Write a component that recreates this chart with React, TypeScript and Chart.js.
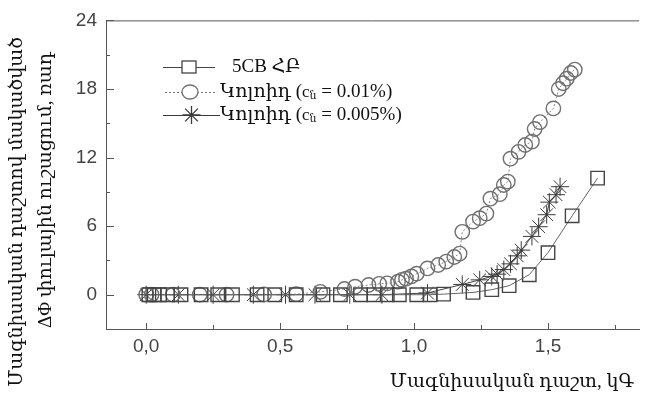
import React, { useEffect, useRef } from "react";
import { Chart, registerables } from "chart.js";

Chart.register(...registerables);

const X_TICKS = [0, 0.5, 1.0, 1.5];
const X_MINOR = [0.25, 0.75, 1.25, 1.75];
const Y_TICKS = [0, 6, 12, 18, 24];
const Y_MINOR = [3, 9, 15, 21];

const LABEL_5CB = "5CB ՀԲ";
const LABEL_COLLOID = "Կոլոիդ (";
const CONC_1 = " = 0.01%)";
const CONC_2 = " = 0.005%)";
const X_TITLE = "Մագնիսական դաշտ, կԳ";
const Y_TITLE_1 = "Մագնիսական դաշտով մակածված";
const Y_TITLE_2 = "ΔΦ փուլային ուշացում, ռադ";

const sqX = [0.01, 0.03, 0.05, 0.08, 0.13, 0.205, 0.267, 0.322, 0.414, 0.48, 0.56, 0.66, 0.725, 0.8, 0.85, 0.9, 0.945, 1.01, 1.06, 1.11, 1.22, 1.29, 1.355, 1.43, 1.5, 1.59, 1.685];
const sqY = [0, 0, 0, 0, 0, 0, 0, 0, 0, 0, 0, 0, 0, 0, 0, 0, 0, 0, 0, 0.05, 0.2, 0.44, 0.79, 1.75, 3.68, 6.9, 10.2];

const ciX = [0.0, 0.02, 0.1, 0.2, 0.3, 0.44, 0.56, 0.65, 0.74, 0.78, 0.83, 0.87, 0.9, 0.94, 0.955, 0.97, 0.99, 1.01, 1.05, 1.09, 1.12, 1.15, 1.17, 1.18, 1.22, 1.245, 1.27, 1.285, 1.32, 1.335, 1.35, 1.36, 1.39, 1.415, 1.44, 1.45, 1.47, 1.52, 1.54, 1.556, 1.57, 1.585, 1.6];
const ciY = [0, 0, 0, 0, 0, 0.02, 0.05, 0.25, 0.5, 0.7, 0.85, 0.95, 1.0, 1.14, 1.3, 1.4, 1.6, 1.84, 2.3, 2.6, 2.9, 3.3, 3.6, 5.5, 6.4, 6.7, 7.1, 8.4, 8.8, 9.6, 9.9, 11.9, 12.5, 13.1, 13.4, 14.5, 15.1, 16.3, 18.0, 18.5, 18.9, 19.4, 19.7];

const stX = [0.0, 0.12, 0.25, 0.4, 0.52, 0.63, 0.76, 0.88, 1.05, 1.18, 1.245, 1.29, 1.31, 1.335, 1.36, 1.385, 1.4, 1.44, 1.465, 1.495, 1.505, 1.53, 1.545];
const stY = [0, 0, 0, 0, 0, 0, 0, 0, 0.15, 0.9, 1.3, 1.6, 1.8, 2.2, 2.7, 3.4, 3.9, 5.1, 5.95, 7.0, 8.1, 8.75, 9.45];

const zip = (xs: number[], ys: number[]) => xs.map((x, i) => ({ x, y: ys[i] }));

const SERIF = '"Liberation Serif", "DejaVu Serif", serif';
const SANS = '"Liberation Sans", Arial, sans-serif';

const SQ_COLOR = "#444";
const CI_COLOR = "#707070";
const ST_COLOR = "#3a3a3a";

const decorPlugin = {
  id: "decor",
  afterDraw(chart: any) {
    const { ctx, chartArea } = chart;
    const xs = chart.scales.x;
    const ys = chart.scales.y;
    ctx.save();
    ctx.strokeStyle = "#555";
    ctx.lineWidth = 1;
    ctx.beginPath();
    ctx.moveTo(chartArea.left, chartArea.top + 0.5);
    ctx.lineTo(chartArea.right, chartArea.top + 0.5);
    ctx.stroke();
    ctx.beginPath();
    Y_TICKS.forEach((v) => {
      const p = Math.round(ys.getPixelForValue(v)) + 0.5;
      ctx.moveTo(chartArea.left, p);
      ctx.lineTo(chartArea.left + 8, p);
    });
    Y_MINOR.forEach((v) => {
      const p = Math.round(ys.getPixelForValue(v)) + 0.5;
      ctx.moveTo(chartArea.left, p);
      ctx.lineTo(chartArea.left + 4, p);
    });
    X_TICKS.forEach((v) => {
      const p = Math.round(xs.getPixelForValue(v)) + 0.5;
      ctx.moveTo(p, chartArea.bottom);
      ctx.lineTo(p, chartArea.bottom - 6);
    });
    X_MINOR.forEach((v) => {
      const p = Math.round(xs.getPixelForValue(v)) + 0.5;
      ctx.moveTo(p, chartArea.bottom);
      ctx.lineTo(p, chartArea.bottom - 4);
    });
    ctx.stroke();

    ctx.fillStyle = "#111";
    ctx.textBaseline = "middle";
    ctx.textAlign = "center";
    ctx.font = `19px ${SERIF}`;
    ctx.fillText(X_TITLE, 512, 382);
    ctx.save();
    ctx.translate(17, 212);
    ctx.rotate(-Math.PI / 2);
    ctx.fillText(Y_TITLE_1, 0, 0);
    ctx.restore();
    ctx.save();
    ctx.translate(46, 190);
    ctx.rotate(-Math.PI / 2);
    ctx.fillText(Y_TITLE_2, 0, 0);
    ctx.restore();

    const rows = [
      { y: 67, style: "rect", color: SQ_COLOR, dash: [] as number[], x0: 163, x1: 215, tx: 232 },
      { y: 92, style: "circle", color: CI_COLOR, dash: [2, 2], x0: 165, x1: 215, tx: 220 },
      { y: 115, style: "star", color: ST_COLOR, dash: [] as number[], x0: 163, x1: 220, tx: 220 },
    ];
    rows.forEach((r, i) => {
      const cx = (r.x0 + r.x1) / 2;
      ctx.strokeStyle = r.color;
      ctx.lineWidth = 1;
      ctx.setLineDash(r.dash);
      ctx.beginPath();
      ctx.moveTo(r.x0, r.y + 0.5);
      ctx.lineTo(r.x1, r.y + 0.5);
      ctx.stroke();
      ctx.setLineDash([]);
      ctx.lineWidth = 1.3;
      if (r.style === "rect") {
        ctx.fillStyle = "#fff";
        ctx.fillRect(cx - 7, r.y - 6, 14, 12);
        ctx.strokeRect(cx - 7, r.y - 6, 14, 12);
      } else if (r.style === "circle") {
        ctx.fillStyle = "#fff";
        ctx.beginPath();
        ctx.ellipse(cx, r.y, 8, 7, 0, 0, Math.PI * 2);
        ctx.fill();
        ctx.stroke();
      } else {
        ctx.beginPath();
        for (let k = 0; k < 4; k++) {
          const a = (k * Math.PI) / 4;
          ctx.moveTo(cx - Math.cos(a) * 9, r.y - Math.sin(a) * 9);
          ctx.lineTo(cx + Math.cos(a) * 9, r.y + Math.sin(a) * 9);
        }
        ctx.stroke();
      }
      ctx.fillStyle = "#111";
      ctx.textAlign = "left";
      ctx.textBaseline = "middle";
      if (i === 0) {
        ctx.font = `19px ${SERIF}`;
        ctx.fillText(LABEL_5CB, r.tx, r.y);
      } else {
        let x = r.tx;
        ctx.font = `19px ${SERIF}`;
        ctx.fillText(LABEL_COLLOID, x, r.y);
        x += ctx.measureText(LABEL_COLLOID).width;
        ctx.font = `17px ${SERIF}`;
        ctx.fillText("c", x, r.y + 1);
        x += ctx.measureText("c").width;
        ctx.font = `11px ${SERIF}`;
        ctx.fillText("ն", x, r.y + 4);
        x += ctx.measureText("ն").width;
        ctx.font = `19px ${SERIF}`;
        ctx.fillText(i === 1 ? CONC_1 : CONC_2, x, r.y);
      }
    });
    ctx.restore();
  },
};

export default function App() {
  const ref = useRef<HTMLCanvasElement | null>(null);
  useEffect(() => {
    if (!ref.current) return;
    const chart = new Chart(ref.current, {
      type: "line",
      data: {
        datasets: [
          {
            label: LABEL_5CB,
            data: zip(sqX, sqY),
            borderColor: "#666",
            borderWidth: 1,
            pointStyle: "rect",
            pointRadius: 9.5,
            pointBorderColor: SQ_COLOR,
            pointBackgroundColor: "rgba(255,255,255,0)",
            pointBorderWidth: 1.4,
            tension: 0,
          },
          {
            label: "Կոլոիդ 0.01%",
            data: zip(ciX, ciY),
            borderColor: "#888",
            borderWidth: 1,
            borderDash: [2, 2],
            pointStyle: "circle",
            pointRadius: 7.2,
            pointBorderColor: CI_COLOR,
            pointBackgroundColor: "rgba(255,255,255,0)",
            pointBorderWidth: 1.4,
            tension: 0,
          },
          {
            label: "Կոլոիդ 0.005%",
            data: zip(stX, stY),
            borderColor: "#444",
            borderWidth: 1,
            pointStyle: "star",
            pointRadius: 9,
            pointBorderColor: ST_COLOR,
            pointBackgroundColor: "rgba(0,0,0,0)",
            pointBorderWidth: 1,
            tension: 0,
          },
        ],
      },
      options: {
        responsive: false,
        animation: false,
        layout: { padding: { top: 19, right: 0, left: 0, bottom: 0 } },
        plugins: { legend: { display: false }, tooltip: { enabled: false }, title: { display: false } },
        scales: {
          x: {
            type: "linear",
            min: -0.15,
            max: 1.84,
            grid: { display: false, drawTicks: false },
            border: { display: true, color: "#555", width: 1 },
            afterBuildTicks: (s: any) => {
              s.ticks = X_TICKS.map((v) => ({ value: v }));
            },
            afterFit: (s: any) => {
              s.height = 69;
            },
            ticks: {
              padding: 6,
              color: "#444",
              font: { family: SANS, size: 19 },
              callback: (v: any) => Number(v).toFixed(1).replace(".", ","),
            },
          },
          y: {
            type: "linear",
            min: -3,
            max: 24,
            grid: { display: false, drawTicks: false },
            border: { display: true, color: "#555", width: 1 },
            afterBuildTicks: (s: any) => {
              s.ticks = Y_TICKS.map((v) => ({ value: v }));
            },
            afterFit: (s: any) => {
              s.width = 106;
            },
            ticks: {
              padding: 9,
              color: "#444",
              font: { family: SANS, size: 19 },
              callback: (v: any) => String(v),
            },
          },
        },
      },
      plugins: [decorPlugin],
    } as any);
    return () => chart.destroy();
  }, []);
  return (
    <div style={{ position: "absolute", left: 0, top: 0, width: 650, height: 398, background: "#fff" }}>
      <canvas ref={ref} width={650} height={398} />
    </div>
  );
}
